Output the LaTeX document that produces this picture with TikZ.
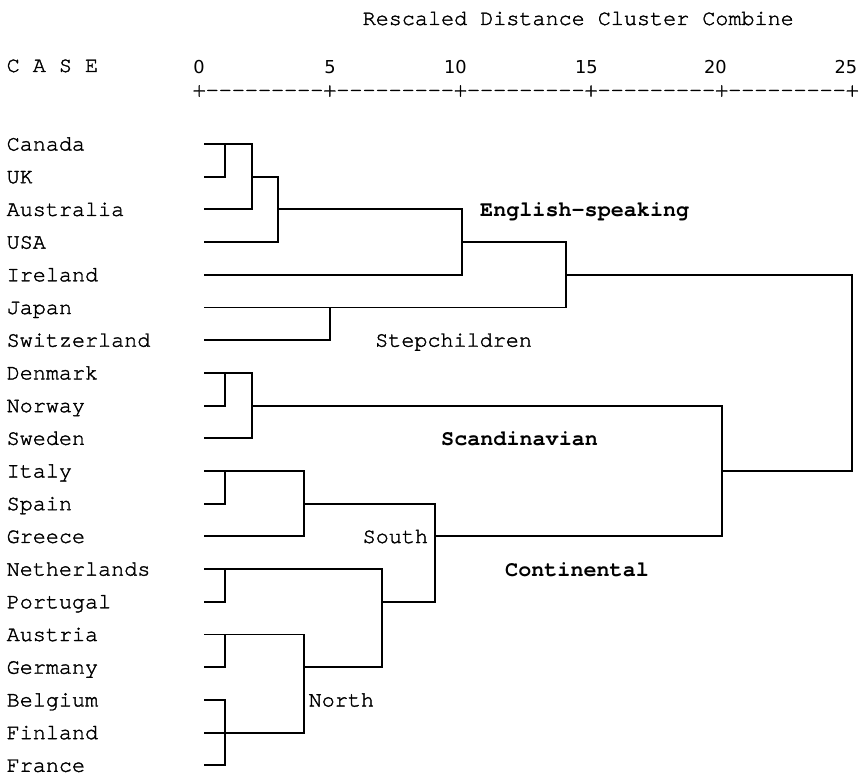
\documentclass[tikz,border=0pt]{standalone}
\usepackage{fontspec}
\setmonofont{texgyrecursor}[Extension=.otf, UprightFont=*-regular, BoldFont=*-bold,
  UprightFeatures={FakeBold=1.6}]
\newfontfamily\axisfont{DejaVu Sans}
\begin{document}
\begin{tikzpicture}[x=1pt,y=-1pt,
  mono/.style={font=\ttfamily\fontsize{21.77}{26}\selectfont, inner sep=0pt, anchor=base west},
  groupname/.style={mono, font=\ttfamily\bfseries\fontsize{21.77}{26}\selectfont},
  tick/.style={font=\axisfont\fontsize{17.8}{20}\selectfont, inner sep=0pt},
  link/.style={line width=1.9pt, line cap=rect}]

\useasboundingbox[fill=white] (0,0) rectangle (860,776);

% header and distance scale
\node[mono] (title) at (362.5,25) {Rescaled Distance Cluster Combine};
\node[mono] (case) at (6.5,72) {C A S E};
\node[tick, anchor=base] (t0) at (199,74) {0};
\node[tick, anchor=base] (t5) at (330,74) {5};
\node[tick, anchor=base east] (t10) at (467,74) {10};
\node[tick, anchor=base east] (t15) at (598,74) {15};
\node[tick, anchor=base east] (t20) at (727,74) {20};
\node[tick, anchor=base east] (t25) at (857.5,74) {25};
\node[mono] (scale) at (192.5,96.5) {+---------+---------+---------+---------+---------+};

% case labels and the start of each leaf line
\foreach \name [count=\i] in {Canada,UK,Australia,USA,Ireland,Japan,Switzerland,
    Denmark,Norway,Sweden,Italy,Spain,Greece,Netherlands,Portugal,Austria,
    Germany,Belgium,Finland,France} {
  \node[mono] (lab\i) at (6.5,{144+(\i-1)*32.7+6.5}) {\name};
  \coordinate (s\i) at (205,{144+(\i-1)*32.7});
}

% merge distances
\coordinate (xa) at (225,0);
\coordinate (xb) at (252,0);
\coordinate (xc) at (278,0);
\coordinate (xd) at (304,0);
\coordinate (xe) at (330,0);
\coordinate (xf) at (382,0);
\coordinate (xg) at (435,0);
\coordinate (xh) at (462,0);
\coordinate (xi) at (566,0);
\coordinate (xj) at (722,0);
\coordinate (xk) at (852,0);

% English-speaking cluster and stepchildren
\draw[link] (s1) -- (s1 -| xb) -- (s3 -| xb) -- (s3);
\draw[link] (s1 -| xa) -- (s2 -| xa) -- (s2);
\draw[link] (s2 -| xb) -- (s2 -| xc) -- (s4 -| xc) -- (s4);
\draw[link] (s3 -| xc) -- (s3 -| xh) -- (s5 -| xh) -- (s5);
\draw[link] (s4 -| xh) -- (s4 -| xi) -- (s6 -| xi) -- (s6);
\draw[link] (s6 -| xe) -- (s7 -| xe) -- (s7);
\draw[link] (s5 -| xi) -- (s5 -| xk) -- (s11 -| xk) -- (s11 -| xj);

% Scandinavian cluster
\draw[link] (s8) -- (s8 -| xb) -- (s10 -| xb) -- (s10);
\draw[link] (s8 -| xa) -- (s9 -| xa) -- (s9);
\draw[link] (s9 -| xb) -- (s9 -| xj) -- (s13 -| xj) -- (s13 -| xg);

% Continental cluster: south and north
\draw[link] (s11) -- (s11 -| xd) -- (s13 -| xd) -- (s13);
\draw[link] (s11 -| xa) -- (s12 -| xa) -- (s12);
\draw[link] (s12 -| xd) -- (s12 -| xg) -- (s15 -| xg) -- (s15 -| xf);
\draw[link] (s14) -- (s14 -| xf) -- (s17 -| xf) -- (s17 -| xd);
\draw[link] (s14 -| xa) -- (s15 -| xa) -- (s15);
\draw[link] (s16) -- (s16 -| xd) -- (s19 -| xd) -- (s19);
\draw[link] (s16 -| xa) -- (s17 -| xa) -- (s17);
\draw[link] (s18) -- (s18 -| xa) -- (s20 -| xa) -- (s20);

% group names
\node[groupname] (english) at (480,216) {English-speaking};
\node[mono] (step) at (375,346.7) {Stepchildren};
\node[groupname] (scand) at (441,445) {Scandinavian};
\node[mono] (south) at (362.5,543) {South};
\node[groupname] (conti) at (505,576) {Continental};
\node[mono] (north) at (308.5,706.5) {North};
\end{tikzpicture}
\end{document}
